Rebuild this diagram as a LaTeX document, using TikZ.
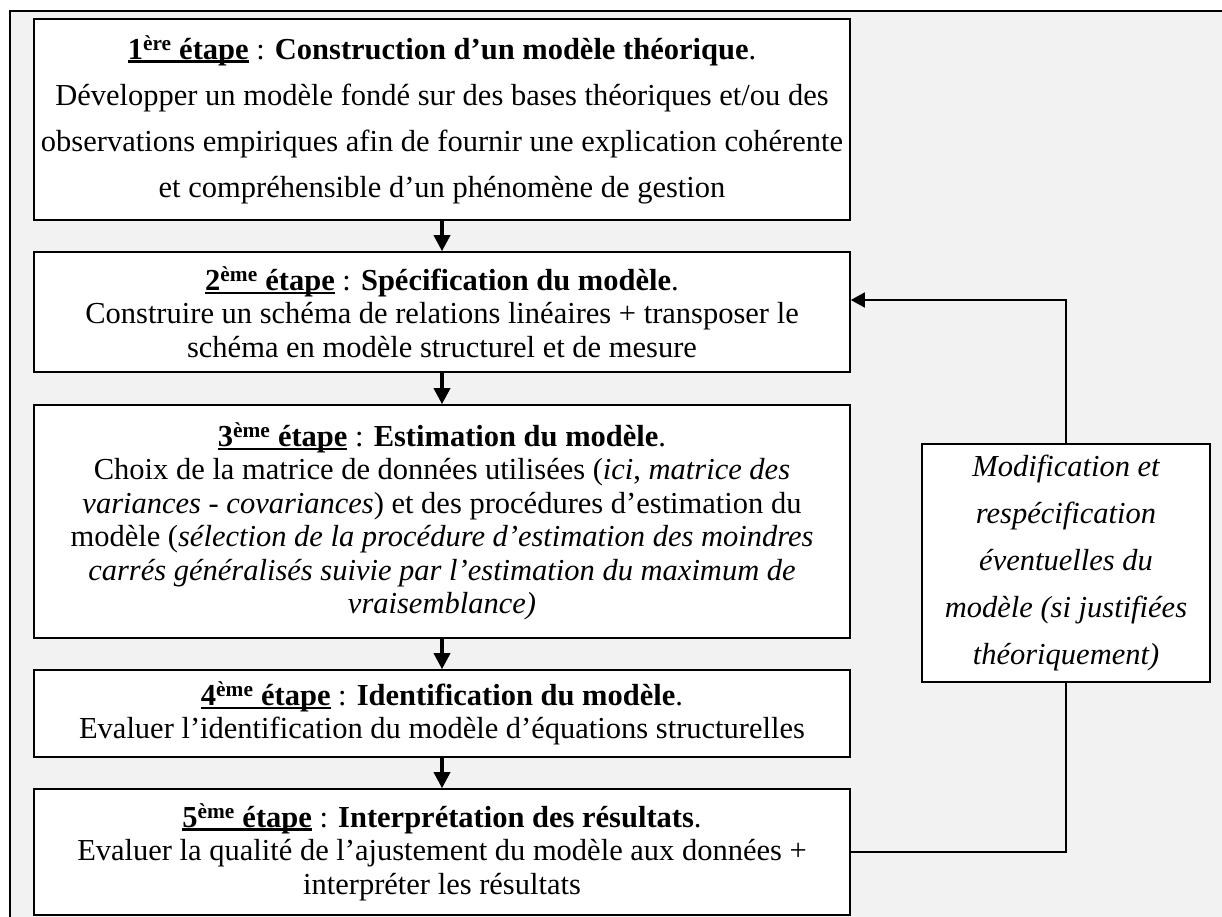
\documentclass[tikz,border=0pt]{standalone}
\usepackage{fontspec}
\setmainfont{Liberation Serif}
\usetikzlibrary{arrows.meta}
\definecolor{bgc}{HTML}{F2F2F2}
\newsavebox\ulbox
\newcommand\ulx[1]{\sbox\ulbox{#1}\rlap{\rule[-3.5pt]{\wd\ulbox}{2.2pt}}\usebox\ulbox}
\newcommand\stepttl[3]{\textbf{\ulx{#1\textsuperscript{#2} étape}} : \textbf{#3}.}
\tikzset{
  box/.style={draw=black, line width=1.6pt, fill=white, align=center, inner sep=0pt,
    font=\fontsize{30.5}{33.5}\selectfont},
  flow/.style={line width=3.5pt, -{Triangle[length=16pt,width=16pt]}},
  back/.style={line width=1.6pt, -{Triangle[length=14pt,width=15pt]}}
}
\begin{document}
\begin{tikzpicture}[x=1pt,y=-1pt]
\useasboundingbox (0,0) rectangle (1222,917);
\fill[bgc] (10,11) rectangle (1222,917);
\draw[line width=2pt] (10,917) -- (10,11) -- (1222,11);

\node[box, minimum width=816pt, minimum height=201pt, font=\fontsize{30.5}{46}\selectfont] (b1) at (442,119.5)
 {\stepttl{1}{ère}{Construction d’un modèle théorique}\\
  Développer un modèle fondé sur des bases théoriques et/ou des\\
  observations empiriques afin de fournir une explication cohérente\\
  et compréhensible d’un phénomène de gestion};

\node[box, minimum width=816pt, minimum height=120pt] (b2) at (442,312)
 {\stepttl{2}{ème}{Spécification du modèle}\\
  Construire un schéma de relations linéaires + transposer le\\
  schéma en modèle structurel et de mesure};

\node[box, minimum width=816pt, minimum height=233pt] (b3) at (442,521.5)
 {\stepttl{3}{ème}{Estimation du modèle}\\
  Choix de la matrice de données utilisées (\textit{ici}, \textit{matrice des}\\
  \textit{variances - covariances}) et des procédures d’estimation du\\
  modèle (\textit{sélection de la procédure d’estimation des moindres}\\
  \textit{carrés généralisés suivie par l’estimation du maximum de}\\
  \textit{vraisemblance)}};

\node[box, minimum width=816pt, minimum height=87pt] (b4) at (442,713.5)
 {\stepttl{4}{ème}{Identification du modèle}\\
  Evaluer l’identification du modèle d’équations structurelles};

\node[box, minimum width=816pt, minimum height=126pt] (b5) at (442,852)
 {\stepttl{5}{ème}{Interprétation des résultats}\\
  Evaluer la qualité de l’ajustement du modèle aux données +\\
  interpréter les résultats};

\node[box, minimum width=288pt, minimum height=238pt, font=\itshape\fontsize{30.5}{47}\selectfont] (side) at (1066,563)
 {Modification et\\
  respécification\\
  éventuelles du\\
  modèle (si justifiées\\
  théoriquement)};

\draw[flow] (b1) -- (b2);
\draw[flow] (b2) -- (b3);
\draw[flow] (b3) -- (b4);
\draw[flow] (b4) -- (b5);

\draw[line width=1.6pt] (b5.east) -| (side.south);
\draw[back] (side.north) |- ([yshift=12pt]b2.east);
\end{tikzpicture}
\end{document}
